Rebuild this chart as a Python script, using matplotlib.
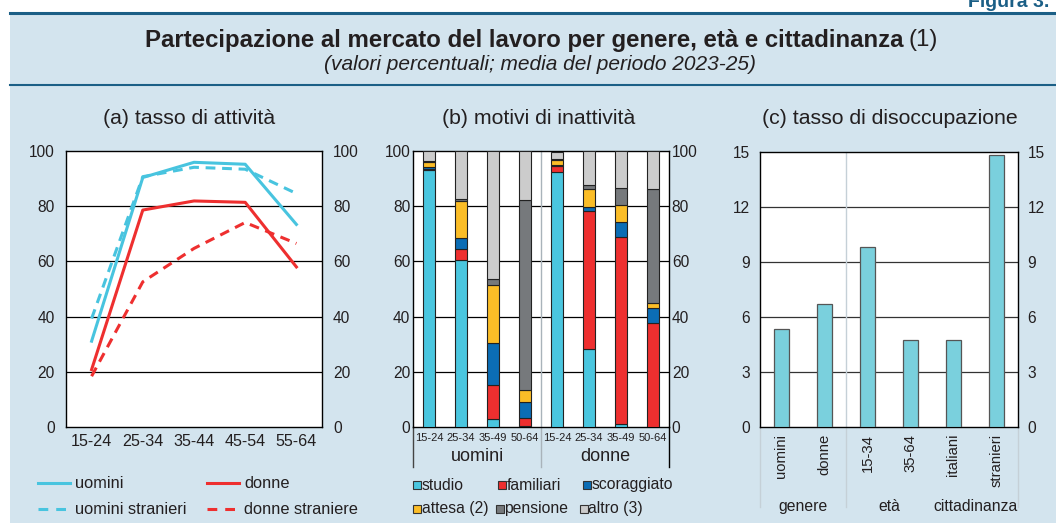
"""Partecipazione al mercato del lavoro — tre pannelli (attività, inattività, disoccupazione)."""
import matplotlib

matplotlib.use("Agg")
import matplotlib.pyplot as plt
import matplotlib.transforms as mtransforms
from matplotlib.lines import Line2D
from matplotlib.patches import Rectangle
import numpy as np

plt.rcParams["font.family"] = ["Liberation Sans", "DejaVu Sans"]

# ---- dati pannello (a): tasso di attività per classe di età
eta_a = ["15-24", "25-34", "35-44", "45-54", "55-64"]
att_uomini = [31.1, 90.4, 95.9, 95.2, 73.4]
att_uomini_str = [39.3, 90.7, 94.1, 93.4, 84.6]
att_donne = [20.8, 78.6, 81.9, 81.4, 58.0]
att_donne_str = [18.4, 52.6, 64.7, 74.1, 66.5]

# ---- dati pannello (b): motivi di inattività (quote percentuali)
eta_b = ["15-24", "25-34", "35-49", "50-64"] * 2
gruppi_b = ["uomini", "donne"]
motivi = ["studio", "familiari", "scoraggiato", "attesa (2)", "pensione", "altro (3)"]
studio = [93.1, 60.6, 2.9, 0.3, 92.5, 28.2, 1.1, 0.1]
familiari = [0.5, 4.0, 12.3, 3.0, 2.1, 50.0, 67.6, 37.5]
scoraggiato = [0.6, 3.7, 15.4, 5.8, 0.4, 1.6, 5.5, 5.6]
attesa = [1.8, 13.7, 20.8, 4.3, 1.6, 6.5, 6.2, 1.8]
pensione = [0.4, 0.7, 2.3, 68.9, 0.4, 1.5, 6.3, 41.3]
altro = [3.6, 17.3, 46.3, 17.7, 2.8, 12.2, 13.3, 13.7]

# ---- dati pannello (c): tasso di disoccupazione
cat_c = ["uomini", "donne", "15-34", "35-64", "italiani", "stranieri"]
gruppi_c = ["genere", "età", "cittadinanza"]
disocc = [5.36, 6.71, 9.84, 4.72, 4.76, 14.83]

# ---- stile
W, H = 1056, 523
BG = "#d3e4ee"
BLU = "#1b5f86"
TXT = "#231f20"
CIANO = "#48c4df"
ROSSO = "#ee2f2f"
COL_MOTIVI = ["#4ac6df", "#ee2f2f", "#0b6db5", "#fbbd27", "#76797c", "#cccccc"]
COL_C = "#7ad0dd"


def fx(px):
    return px / W


def fy(py):
    return 1 - py / H


fig = plt.figure(figsize=(W / 100, H / 100), dpi=100)
fig.patch.set_facecolor("white")

# riquadro azzurro e filetti
fig.add_artist(Rectangle((fx(10), 0), 1 - fx(10), fy(14), transform=fig.transFigure,
                         facecolor=BG, edgecolor="none", zorder=-2))
fig.add_artist(Line2D([fx(10), 1], [fy(13), fy(13)], transform=fig.transFigure,
                      color=BLU, lw=2.2, zorder=-1))
fig.add_artist(Line2D([fx(10), 1], [fy(85), fy(85)], transform=fig.transFigure,
                      color=BLU, lw=1.5, zorder=-1))
fig.text(fx(968), fy(7), "Figura 3.", ha="left", va="baseline", fontsize=14,
         fontweight="bold", color=BLU)

# titolo (parte in grassetto + nota)
t1 = fig.text(0, fy(40), "Partecipazione al mercato del lavoro per genere, età e cittadinanza",
              ha="left", va="center", fontsize=17.3, fontweight="bold", color=TXT)
t2 = fig.text(0, fy(40), "(1)", ha="left", va="center", fontsize=17.3, color=TXT)
renderer = fig.canvas.get_renderer()
w1 = t1.get_window_extent(renderer).width
w2 = t2.get_window_extent(renderer).width
gap = 5
x0 = 541 - (w1 + gap + w2) / 2
t1.set_x(fx(x0))
t2.set_x(fx(x0 + w1 + gap))
fig.text(fx(540), fy(65), "(valori percentuali; media del periodo 2023-25)", ha="center",
         va="center", fontsize=15, style="italic", color=TXT)

# titoli dei pannelli
for xc, s in [(189, "(a) tasso di attività"), (539, "(b) motivi di inattività"),
              (890, "(c) tasso di disoccupazione")]:
    fig.text(fx(xc), fy(118), s, ha="center", va="center", fontsize=15.3, color=TXT)


def base_axes(rect):
    ax = fig.add_axes(rect)
    ax.set_facecolor("white")
    for sp in ax.spines.values():
        sp.set_color("black")
        sp.set_linewidth(1.0)
    ax.tick_params(axis="both", length=0, colors=TXT, labelsize=11.2)
    return ax


# ---------------- pannello (a)
ax_a = base_axes([fx(66), fy(427), fx(322) - fx(66), fy(151) - fy(427)])
x_a = np.arange(len(eta_a))
ax_a.plot(x_a, att_uomini, color=CIANO, lw=2.2)
ax_a.plot(x_a, att_uomini_str, color=CIANO, lw=2.2, dashes=(3.2, 2.2))
ax_a.plot(x_a, att_donne, color=ROSSO, lw=2.2)
ax_a.plot(x_a, att_donne_str, color=ROSSO, lw=2.2, dashes=(3.2, 2.2))
ax_a.set_xlim(-0.5, len(eta_a) - 0.5)
ax_a.set_ylim(0, 100)
ax_a.set_yticks(range(0, 101, 20))
ax_a.set_xticks(x_a, eta_a)
for v in range(20, 100, 20):
    ax_a.axhline(v, color="black", lw=0.9, zorder=0)
ax_a.tick_params(axis="y", labelright=True, labelleft=True, pad=8)
ax_a.tick_params(axis="x", pad=5, labelsize=11.6)

# legenda (a)
leg_a = [(38, 483, CIANO, "-", "uomini"), (207, 483, ROSSO, "-", "donne"),
         (38, 509, CIANO, "--", "uomini stranieri"), (207, 509, ROSSO, "--", "donne straniere")]
for x, y, c, ls, s in leg_a:
    ln = Line2D([fx(x), fx(x + 32)], [fy(y), fy(y)], transform=fig.transFigure,
                color=c, lw=2.2)
    if ls == "--":
        ln.set_dashes((3.2, 2.6))
    fig.add_artist(ln)
    fig.text(fx(x + 37), fy(y), s, ha="left", va="center", fontsize=11.8, color=TXT)

# ---------------- pannello (b)
ax_b = base_axes([fx(413), fy(427), fx(669) - fx(413), fy(151) - fy(427)])
x_b = np.arange(len(eta_b))
serie_b = [studio, familiari, scoraggiato, attesa, pensione, altro]
bottom = np.zeros(len(eta_b))
for vals, col in zip(serie_b, COL_MOTIVI):
    ax_b.bar(x_b, vals, width=0.4, bottom=bottom, color=col, edgecolor="#222222",
             lw=0.8, zorder=3)
    bottom += np.array(vals)
ax_b.set_xlim(-0.5, len(eta_b) - 0.5)
ax_b.set_ylim(0, 100)
ax_b.set_yticks(range(0, 101, 20))
ax_b.set_xticks(x_b, eta_b)
ax_b.tick_params(axis="x", labelsize=8, pad=4)
ax_b.tick_params(axis="y", labelright=True, pad=2)
for v in range(20, 100, 20):
    ax_b.axhline(v, color="black", lw=0.9, zorder=0)
tr_b = mtransforms.blended_transform_factory(ax_b.transData, ax_b.transAxes)
ax_b.plot([3.5, 3.5], [1, -0.145], transform=tr_b, color="#a9b3ba", lw=1.0,
          clip_on=False, zorder=1)
for xv, c in [(-0.5, "#444444"), (7.5, "black")]:
    ax_b.plot([xv, xv], [0, -0.145], transform=tr_b, color=c, lw=1.0, clip_on=False)
for i, g in enumerate(gruppi_b):
    ax_b.text(1.5 + 4 * i, -0.108, g, transform=tr_b, ha="center", va="center",
              fontsize=13, color=TXT)

# legenda (b)
leg_b = [(413, 485, 0), (498, 485, 1), (583, 485, 2),
         (413, 509, 3), (496, 509, 4), (580, 509, 5)]
for x, y, k in leg_b:
    fig.add_artist(Rectangle((fx(x), fy(y + 4)), fx(8), 8 / H, transform=fig.transFigure,
                             facecolor=COL_MOTIVI[k], edgecolor="#333333", lw=0.8))
    fig.text(fx(x + 8.5), fy(y), motivi[k], ha="left", va="center", fontsize=11.3, color=TXT)

# ---------------- pannello (c)
ax_c = base_axes([fx(760), fy(427), fx(1018) - fx(760), fy(152) - fy(427)])
x_c = np.arange(len(cat_c))
ax_c.bar(x_c, disocc, width=0.33, color=COL_C, edgecolor="#555555", lw=0.9, zorder=3)
ax_c.set_xlim(-0.5, len(cat_c) - 0.5)
ax_c.set_ylim(0, 15)
ax_c.set_yticks(range(0, 16, 3))
ax_c.set_xticks(x_c, cat_c, rotation=90, va="top")
ax_c.tick_params(axis="x", labelsize=10.7, pad=5)
ax_c.tick_params(axis="y", labelright=True, pad=7)
for v in range(3, 15, 3):
    ax_c.axhline(v, color="#333333", lw=0.9, zorder=0)
tr_c = mtransforms.blended_transform_factory(ax_c.transData, ax_c.transAxes)
ax_c.plot([1.5, 1.5], [1, -0.291], transform=tr_c, color="#c5d0d7", lw=1.0,
          clip_on=False, zorder=1)
for xv in (-0.5, 5.5):
    ax_c.plot([xv, xv], [0, -0.291], transform=tr_c, color="#c5d0d7", lw=1.0,
              clip_on=False)
for i, g in enumerate(gruppi_c):
    ax_c.text(0.5 + 2 * i, -0.29, g, transform=tr_c, ha="center", va="center",
              fontsize=11.3, color=TXT)

fig.savefig("out.png", dpi=100, facecolor=fig.get_facecolor())
